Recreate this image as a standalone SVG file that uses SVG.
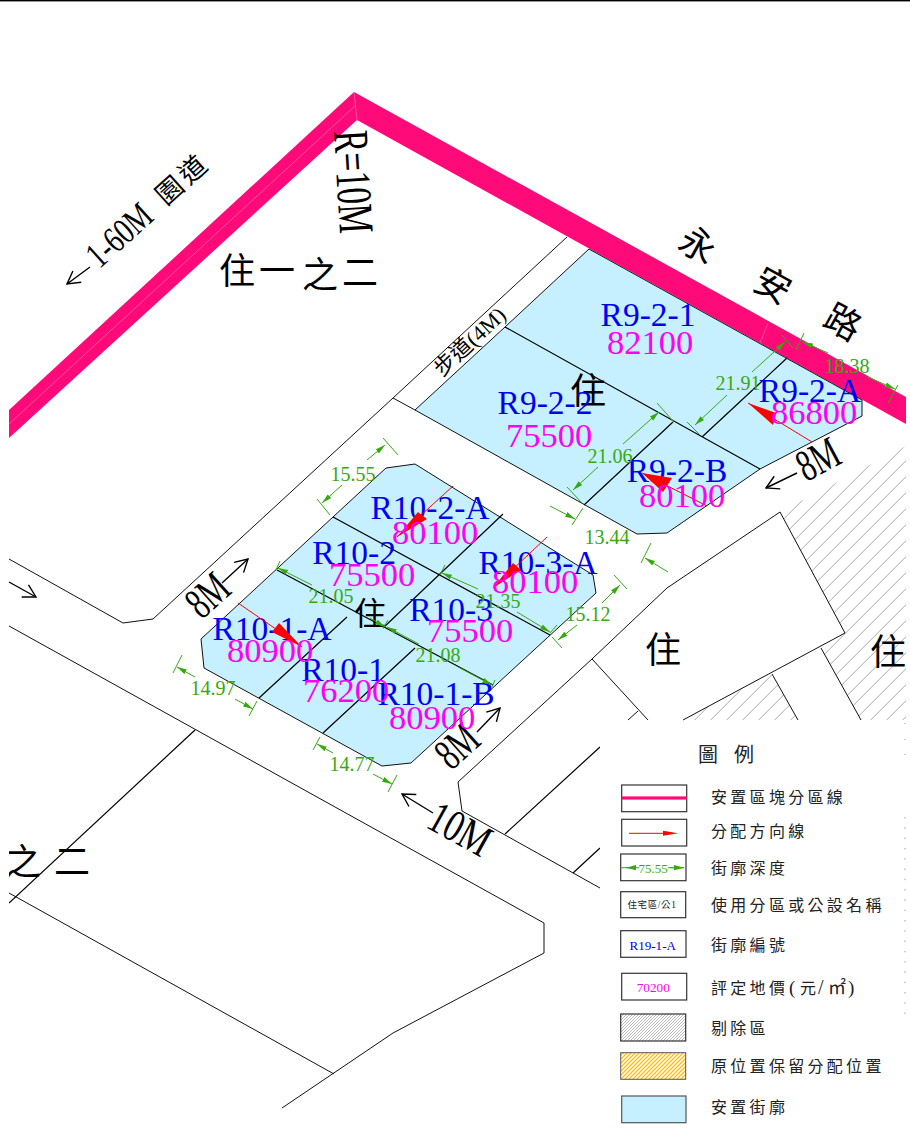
<svg xmlns="http://www.w3.org/2000/svg" width="910" height="1129" viewBox="0 0 910 1129">
<style>
.bg{fill:#fff}
.road{fill:none;stroke:#111;stroke-width:1}
.div{fill:none;stroke:#000;stroke-width:1.2}
.parcel{fill:#c6f0ff;stroke:#111;stroke-width:1}
.band{fill:#ff0a78}
.seam{fill:none;stroke:#ff7ab5;stroke-width:.6}
.dim{fill:none;stroke:#36a90f;stroke-width:1}
.dima{fill:none;stroke:#36a90f;stroke-width:1;marker-end:url(#ga)}
.dimt{font:20px "Liberation Serif",serif;fill:#36a90f;text-anchor:middle}
.red{fill:none;stroke:#f00;stroke-width:1}
.redh{fill:#f00}
.arr{fill:none;stroke:#000;stroke-width:1.4;marker-end:url(#ka)}
.id{font:33.5px "Liberation Serif",serif;fill:#0000f0;text-anchor:middle}
.pr{font:34.5px "Liberation Serif",serif;fill:#ff00f0;text-anchor:middle}
.big{font-family:"Liberation Serif",serif;font-size:45px;fill:#000;text-anchor:middle}
.cjk{font-family:"Noto Sans CJK TC",sans-serif;font-size:36px;fill:#000;text-anchor:middle}
.lg{font-family:"Liberation Serif","Noto Sans CJK TC",sans-serif;font-size:16px;letter-spacing:3.3px;fill:#222}
.box{fill:#fff;stroke:#333;stroke-width:1.2}
</style>
<defs>
<marker id="ga" markerUnits="userSpaceOnUse" markerWidth="10" markerHeight="6" refX="10" refY="3" orient="auto"><path d="M0 .4L10 3L0 5.6z" fill="#36a90f"/></marker>
<marker id="ka" markerUnits="userSpaceOnUse" markerWidth="15" markerHeight="16" refX="13.5" refY="8" orient="auto"><path d="M1 1L13.5 8L1 15" fill="none" stroke="#000" stroke-width="1.4"/></marker>
<pattern id="hatch" patternUnits="userSpaceOnUse" width="16" height="16" patternTransform="translate(6.7 0)"><path d="M-1 17L17 -1M-1 1L1 -1M15 17L17 15" stroke="#aaa" stroke-width="1" fill="none"/></pattern>
<pattern id="hg" patternUnits="userSpaceOnUse" width="3" height="3"><path d="M-1 4L4 -1M-1 1L1 -1M2 4L4 2" stroke="#aaa" stroke-width=".8" fill="none"/></pattern>
<pattern id="hy" patternUnits="userSpaceOnUse" width="4" height="4"><path d="M-1 5L5 -1M-1 1L1 -1M3 5L5 3" stroke="#ffbd1a" stroke-width="1.3" fill="none"/></pattern>
<clipPath id="mapclip"><rect x="9" y="0" width="897" height="1129"/></clipPath>
</defs>
<rect class="bg" width="910" height="1129"/>
<rect id="top-rule" width="910" height="1.4" fill="#000"/>
<g id="map" clip-path="url(#mapclip)">
<g id="hatched-areas">
<path fill="url(#hatch)" d="M780 512L906 446V720H861L821 648L845 633z"/>
<path fill="url(#hatch)" d="M772 674L798 720H683z"/>
</g>
<g id="roads">
<path class="road" d="M9 559L123 623L153 619L393 398L567 237"/>
<path class="road" d="M393 398L415 410"/>
<path class="road" d="M9 626L544 923V953L393 1033L282 1108"/>
<path class="road" d="M9 893L334 1074"/>
<path class="div" d="M195 730L9 903"/>
<path class="road" d="M780 512L667 588L592 659L458 782L462 811L600 888"/>
<path class="road" d="M780 512L845 633L683 720"/>
<path class="road" d="M592 659L648 720M638 711L628 720"/>
<path class="road" d="M772 674L798 720M821 648L861 720"/>
<path class="div" d="M505 834L600 747M573 873L600 848"/>
</g>
<g id="band">
<path class="band" d="M9 410L354 92L906 397V424L357 120L9 438z"/>
<path class="seam" d="M354 92L357 120M9 424L355 106M768 323L760 343"/>
</g>
<g id="block-r9">
<path class="parcel" d="M589 249L862 400V416L760 469L667 533L637 534L415 410L505 327z"/>
<path class="div" d="M505 327L760 469M584 505L673 422M702 437L787 358"/>
</g>
<g id="block-r10">
<path class="parcel" d="M415 464L386 468L201 639L204 668L382 766L411 763L596 593L593 575z"/>
<path class="div" d="M333 517L550 635M277 570L493 685M503 514L383 628M347 617L259 698M415 648L323 733"/>
</g>
<g id="map-labels">
<text class="cjk" transform="translate(237 284)">住</text>
<text class="cjk" transform="translate(277 284)">一</text>
<text class="cjk" transform="translate(320 288)">之</text>
<text class="cjk" transform="translate(360 286)">二</text>
<text class="cjk" transform="translate(698 245) rotate(29) translate(0 13)">永</text>
<text class="cjk" transform="translate(773 285) rotate(29) translate(0 13)">安</text>
<text class="cjk" transform="translate(843 322) rotate(29) translate(0 13)">路</text>
<text class="cjk" x="588" y="404">住</text>
<text class="cjk" x="370" y="625" style="font-size:32px">住</text>
<text class="cjk" x="663" y="663">住</text>
<text class="cjk" x="888" y="665">住</text>
<text class="cjk" x="23" y="875">之</text>
<text class="cjk" x="72" y="875">二</text>
<text class="big" transform="translate(207.5 595) rotate(-42) scale(.68 1)" y="15">8M</text>
<text class="big" transform="translate(457 746) rotate(-42) scale(.68 1)" y="15">8M</text>
<text class="big" transform="translate(818 459) rotate(-28) scale(.68 1)" y="15">8M</text>
<text class="big" transform="translate(460 829) rotate(29) scale(.76 1)" y="15">10M</text>
<text class="big" style="font-size:50px" transform="translate(353 182) rotate(86.5) scale(.66 1)" y="16">R=10M</text>
<text class="big" style="font-size:37px" transform="translate(119 235) rotate(-42) scale(.75 1)" y="12.5">1-60M</text>
<text class="cjk" style="font-size:27px;letter-spacing:4px" transform="translate(183 179) rotate(-42)" y="9">園道</text>
<text transform="translate(470 342) rotate(-43)" y="7" text-anchor="middle" style="font-family:'Liberation Serif','Noto Sans CJK TC',sans-serif;font-size:22px" fill="#000">步道(4M)</text>
</g>
</g>
<g id="r9-2-1"><text class="id" x="648" y="326">R9-2-1</text></g>
<g id="r9-2-2"><text class="id" x="545" y="414">R9-2-2</text></g>
<g id="r9-2-a"><text class="id" x="810" y="402">R9-2-A</text></g>
<g id="r9-2-b"><text class="id" x="677" y="482">R9-2-B</text></g>
<g id="r10-2-a"><text class="id" x="430" y="519">R10-2-A</text></g>
<g id="r10-3-a"><text class="id" x="538" y="574">R10-3-A</text></g>
<g id="r10-2"><text class="id" x="354" y="564">R10-2</text></g>
<g id="r10-3"><text class="id" x="451" y="621">R10-3</text></g>
<g id="r10-1-a"><text class="id" x="272" y="640">R10-1-A</text></g>
<g id="r10-1"><text class="id" x="343" y="681">R10-1</text></g>
<g id="r10-1-b"><text class="id" x="436" y="705">R10-1-B</text></g>
<g id="connectors">
<g id="allocation-arrows">
<path class="red" d="M812 442L748 403M707 506L642 473M453 486L397 537M547 537L493 588M238 603L302 647"/>
<path class="redh" d="M748 403L776 413L773 425zM642 473L672 478L663 492zM397 537L418 512L427 519zM493 588L513 563L521 570zM302 647L279 623L272 632z"/>
</g>
<g id="dimensions">
<path class="dim" d="M383 438L398 455M317 499L330 515M782 335L793 348M687 422L700 435M804 333L796 350M898 385L888 403M657 403L673 421M567 487L582 503M583 508L572 525M651 543L641 563M614 575L627 589M552 637L562 648M445 565L440 575M557 625L550 633M280 561L276 570M388 620L383 628M495 680L492 687M182 655L173 673M257 701L249 716M320 737L313 750M397 775L388 792"/>
<path class="dima" d="M367 460L385 445"/><path class="dima" d="M342 485L322 503"/>
<path class="dima" d="M752 372L785 342"/><path class="dima" d="M727 395L695 425"/>
<path class="dima" d="M828 353L803 342"/><path class="dima" d="M868 377L895 389"/>
<path class="dima" d="M623 444L659 412"/><path class="dima" d="M598 467L573 490"/>
<path class="dima" d="M550 506L575 519"/><path class="dima" d="M668 572L645 558"/>
<path class="dima" d="M602 603L620 585"/><path class="dima" d="M577 625L558 640"/>
<path class="dima" d="M478 589L442 573"/><path class="dima" d="M517 612L550 632"/>
<path class="dima" d="M312 585L278 568"/><path class="dima" d="M370 618L385 627"/>
<path class="dima" d="M419 644L387 627"/><path class="dima" d="M458 667L492 685"/>
<path class="dima" d="M195 677L177 667"/><path class="dima" d="M235 699L253 709"/>
<path class="dima" d="M333 753L317 744"/><path class="dima" d="M373 774L392 784"/>
</g>
<g id="road-arrows">
<path class="arr" d="M9 582L36 597"/>
<path class="arr" d="M222 583L248 559"/>
<path class="arr" d="M477 732L500 708"/>
<path class="arr" d="M797 473L766 488"/>
<path class="arr" d="M433 813L402 794"/>
<path class="arr" d="M90 267L67 284"/>
</g>
</g>
<g id="prices">
<text class="pr" x="650" y="354">82100</text>
<text class="pr" x="549" y="447">75500</text>
<text class="pr" x="814" y="424">86800</text>
<text class="pr" x="682" y="507">80100</text>
<text class="pr" x="435" y="544">80100</text>
<text class="pr" x="535" y="593">80100</text>
<text class="pr" x="372" y="586">75500</text>
<text class="pr" x="470" y="642">75500</text>
<text class="pr" x="270" y="662">80900</text>
<text class="pr" x="346" y="702">76200</text>
<text class="pr" x="432" y="729">80900</text>
</g>
<g id="dimension-labels">
<text class="dimt" x="353" y="481">15.55</text>
<text class="dimt" x="738" y="390">21.91</text>
<text class="dimt" x="847" y="373">18.38</text>
<text class="dimt" x="610" y="463">21.06</text>
<text class="dimt" x="607" y="544">13.44</text>
<text class="dimt" x="588" y="621">15.12</text>
<text class="dimt" x="498" y="608">21.35</text>
<text class="dimt" x="331" y="603">21.05</text>
<text class="dimt" x="438" y="662">21.08</text>
<text class="dimt" x="213" y="695">14.97</text>
<text class="dimt" x="352" y="771">14.77</text>
</g>
<g id="legend">
<rect class="bg" x="600" y="721" width="305" height="408"/>
<path d="M905 723V724M905 739V740M905 754V755M905 817V1014" stroke="#999" stroke-width="1" stroke-dasharray="1.4 8.9" fill="none"/>
<text x="698" y="762" style="font-family:'Noto Sans CJK TC',sans-serif;font-size:20px" fill="#222">圖</text>
<text x="734" y="762" style="font-family:'Noto Sans CJK TC',sans-serif;font-size:20px" fill="#222">例</text>
<g id="legend-boundary"><rect class="box" x="621.7" y="785" width="65" height="26.7"/><rect x="621.7" y="796.4" width="65" height="3.2" class="band"/><text class="lg" x="711" y="803">安置區塊分區線</text></g>
<g id="legend-direction"><rect class="box" x="621.7" y="819.3" width="65" height="26.7"/><path d="M629 833.3H664" stroke="#f00"/><path d="M663 830.8L678 833.3L663 835.8z" fill="#f00"/><text class="lg" x="711" y="837">分配方向線</text></g>
<g id="legend-depth"><rect class="box" x="620.7" y="854" width="65.3" height="26.7"/><path d="M639 867.7H626" class="dima"/><path d="M620.7 867.7H628M668 867.7H684" class="dim"/><path d="M670 867.7H684" class="dima"/><text x="653" y="872.5" text-anchor="middle" style="font:13px 'Liberation Serif',serif" fill="#36a90f">75.55</text><text class="lg" x="711" y="874">街廓深度</text></g>
<g id="legend-zone"><rect class="box" x="620.7" y="891.7" width="65" height="26"/><text x="652" y="908" text-anchor="middle" style="font-family:'Liberation Serif','Noto Sans CJK TC',sans-serif;font-size:9.5px;letter-spacing:.6px" fill="#222">住宅區/公1</text><text class="lg" x="711" y="911">使用分區或公設名稱</text></g>
<g id="legend-id"><rect class="box" x="620.7" y="930.7" width="65.3" height="26.6" stroke="#777"/><text x="652.7" y="950" text-anchor="middle" style="font:13.1px 'Liberation Serif',serif" fill="#0000f0">R19-1-A</text><text class="lg" x="711" y="951">街廓編號</text></g>
<g id="legend-price"><rect class="box" x="621.7" y="973.3" width="65" height="26.7"/><text x="653.3" y="991.7" text-anchor="middle" style="font:13.3px 'Liberation Serif',serif" fill="#ff00f0">70200</text><text class="lg" x="711" y="994">評定地價<tspan x="789" style="font-size:19px">(</tspan><tspan x="800">元</tspan><tspan x="818" style="font-size:20px">/</tspan><tspan x="828" style="font-size:18px">㎡</tspan><tspan x="848" style="font-size:19px">)</tspan></text></g>
<g id="legend-excluded"><rect x="620.7" y="1014" width="65" height="27" fill="url(#hg)" stroke="#333" stroke-width="1.2"/><text class="lg" x="711" y="1034">剔除區</text></g>
<g id="legend-reserved"><rect x="620.7" y="1052.7" width="65" height="26.6" fill="url(#hy)" stroke="#555" stroke-width="1"/><text class="lg" x="711" y="1072">原位置保留分配位置</text></g>
<g id="legend-parcel"><rect x="621.7" y="1096" width="64.3" height="26.7" fill="#c6f0ff" stroke="#555" stroke-width="1.2"/><text class="lg" x="711" y="1113">安置街廓</text></g>
</g>
</svg>
